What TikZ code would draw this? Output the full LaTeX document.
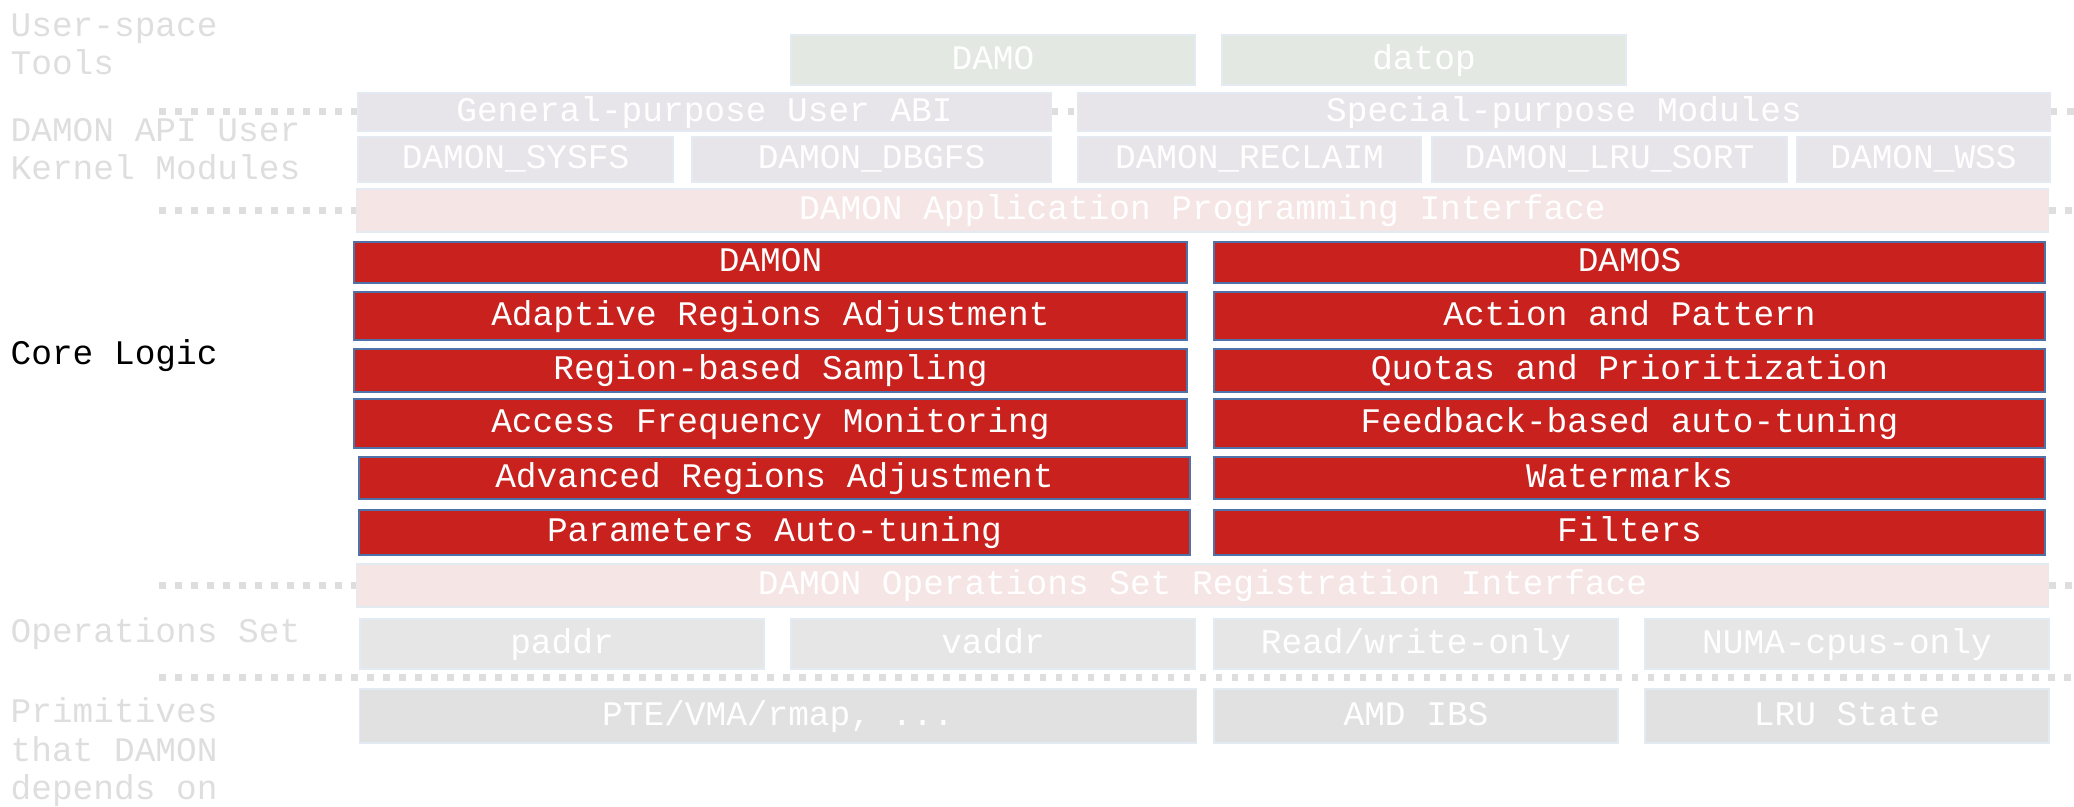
\documentclass[tikz,border=0pt]{standalone}
\usepackage{fontspec}
\setmainfont{Liberation Mono}
\usepackage{tikz}

\definecolor{coreRed}{HTML}{C9211E}
\definecolor{coreEdge}{HTML}{4F72A8}
\definecolor{toolFill}{HTML}{E3E8E3}
\definecolor{userFill}{HTML}{E8E5EA}
\definecolor{ifaceFill}{HTML}{F6E5E5}
\definecolor{opsFill}{HTML}{E6E6E6}
\definecolor{primFill}{HTML}{E1E1E1}
\definecolor{fadeText}{HTML}{DEDEDE}
\definecolor{faintEdge}{HTML}{E4EAF2}

\tikzset{layer/.style = {rectangle,inner sep=0pt,text=white,draw=faintEdge,line width=0.4pt,text height=0.26cm,text depth=0.07cm}}
\tikzset{tool/.style = {layer,fill=toolFill,minimum width=4.04cm,minimum height=0.5cm}}
\tikzset{umod/.style = {layer,fill=userFill,minimum height=0.45cm}}
\tikzset{iface/.style = {layer,fill=ifaceFill,minimum width=16.91cm,minimum height=0.43cm}}
\tikzset{opset/.style = {layer,fill=opsFill,minimum width=4.04cm,minimum height=0.5cm}}
\tikzset{prim/.style = {layer,fill=primFill,minimum width=4.04cm,minimum height=0.54cm}}
\tikzset{core/.style = {rectangle,inner sep=0pt,fill=coreRed,draw=coreEdge,line width=0.6pt,text=white,text height=0.26cm,text depth=0.07cm}}
\tikzset{lbl/.style = {anchor=base west,inner sep=0pt,align=left,text=fadeText}}
\tikzset{sep/.style = {draw=fadeText,line width=0.07cm,dash pattern=on 0.065cm off 0.095cm}}

\begin{document}
\begin{tikzpicture}[x=0.01cm,y=-0.01cm,font=\fontsize{9.8pt}{10.95pt}\selectfont]

            \useasboundingbox (0,0) rectangle (2074,807);

            % layer names (anchored at the last line)
            \node[lbl] (ltools) at (10,75) {User-space\\Tools};
            \node[lbl] (lapi) at (10,180) {DAMON API User\\Kernel Modules};
            \node[lbl,text=black] (lcore) at (10,365) {Core Logic};
            \node[lbl] (lops) at (10,643) {Operations Set};
            \node[lbl] (lprim) at (10,800) {Primitives\\that DAMON\\depends on};

            % user-space tools
            \node[tool] (damo) at (993,60) {DAMO};
            \node[tool] (datop) at (1424,60) {datop};

            % API users
            \node[umod,minimum width=6.93cm,minimum height=0.38cm] (gpabi) at (704.5,112) {General-purpose User ABI};
            \node[umod,minimum width=9.72cm,minimum height=0.38cm] (spmod) at (1564,112) {Special-purpose Modules};
            \node[umod,minimum width=3.15cm] (sysfs) at (515.5,159.5) {DAMON\_SYSFS};
            \node[umod,minimum width=3.59cm] (dbgfs) at (871.5,159.5) {DAMON\_DBGFS};
            \node[umod,minimum width=3.43cm] (reclaim) at (1249.5,159.5) {DAMON\_RECLAIM};
            \node[umod,minimum width=3.55cm] (lrusort) at (1609.5,159.5) {DAMON\_LRU\_SORT};
            \node[umod,minimum width=2.53cm] (wss) at (1923.5,159.5) {DAMON\_WSS};

            \node[iface] (api) at (1202.5,210.5) {DAMON Application Programming Interface};

            % core logic
            \node[core,minimum width=8.33cm,minimum height=0.41cm] (damon) at (770.5,262.5) {DAMON};
            \node[core,minimum width=8.33cm,minimum height=0.48cm] (ara) at (770.5,316) {Adaptive Regions Adjustment};
            \node[core,minimum width=8.33cm,minimum height=0.43cm] (rbs) at (770.5,370.5) {Region-based Sampling};
            \node[core,minimum width=8.33cm,minimum height=0.49cm] (afm) at (770.5,423.5) {Access Frequency Monitoring};
            \node[core,minimum width=8.31cm,minimum height=0.42cm] (adv) at (774.5,478) {Advanced Regions Adjustment};
            \node[core,minimum width=8.31cm,minimum height=0.45cm] (pat) at (774.5,532.5) {Parameters Auto-tuning};

            \node[core,minimum width=8.31cm,minimum height=0.41cm] (damos) at (1629.5,262.5) {DAMOS};
            \node[core,minimum width=8.31cm,minimum height=0.48cm] (action) at (1629.5,316) {Action and Pattern};
            \node[core,minimum width=8.31cm,minimum height=0.43cm] (quota) at (1629.5,370.5) {Quotas and Prioritization};
            \node[core,minimum width=8.31cm,minimum height=0.49cm] (feed) at (1629.5,423.5) {Feedback-based auto-tuning};
            \node[core,minimum width=8.31cm,minimum height=0.42cm] (wmark) at (1629.5,478) {Watermarks};
            \node[core,minimum width=8.31cm,minimum height=0.45cm] (filt) at (1629.5,532.5) {Filters};

            \node[iface] (opsif) at (1202.5,585.5) {DAMON Operations Set Registration Interface};

            % operations sets
            \node[opset] (paddr) at (562,644) {paddr};
            \node[opset] (vaddr) at (993,644) {vaddr};
            \node[opset] (rwonly) at (1416,644) {Read/write-only};
            \node[opset] (numa) at (1847,644) {NUMA-cpus-only};

            % primitives
            \node[prim,minimum width=8.36cm] (pte) at (778,716) {PTE/VMA/rmap, ...};
            \node[prim] (ibs) at (1416,716) {AMD IBS};
            \node[prim] (lru) at (1847,716) {LRU State};

            % separators
            \coordinate (s1a) at (159,112);
            \coordinate (s1b) at (2074,112);
            \coordinate (s2a) at (159,210.5);
            \coordinate (s2b) at (2074,210.5);
            \coordinate (s3a) at (159,585.5);
            \coordinate (s3b) at (2074,585.5);
            \coordinate (s4a) at (159,678);
            \coordinate (s4b) at (2074,678);

            \draw[sep] (s1a) -- (gpabi.west);
            \draw[sep] (gpabi.east) -- (spmod.west);
            \draw[sep] (spmod.east) -- (s1b);
            \draw[sep] (s2a) -- (api.west);
            \draw[sep] (api.east) -- (s2b);
            \draw[sep] (s3a) -- (opsif.west);
            \draw[sep] (opsif.east) -- (s3b);
            \draw[sep] (s4a) -- (s4b);
            \end{tikzpicture}
\end{document}
